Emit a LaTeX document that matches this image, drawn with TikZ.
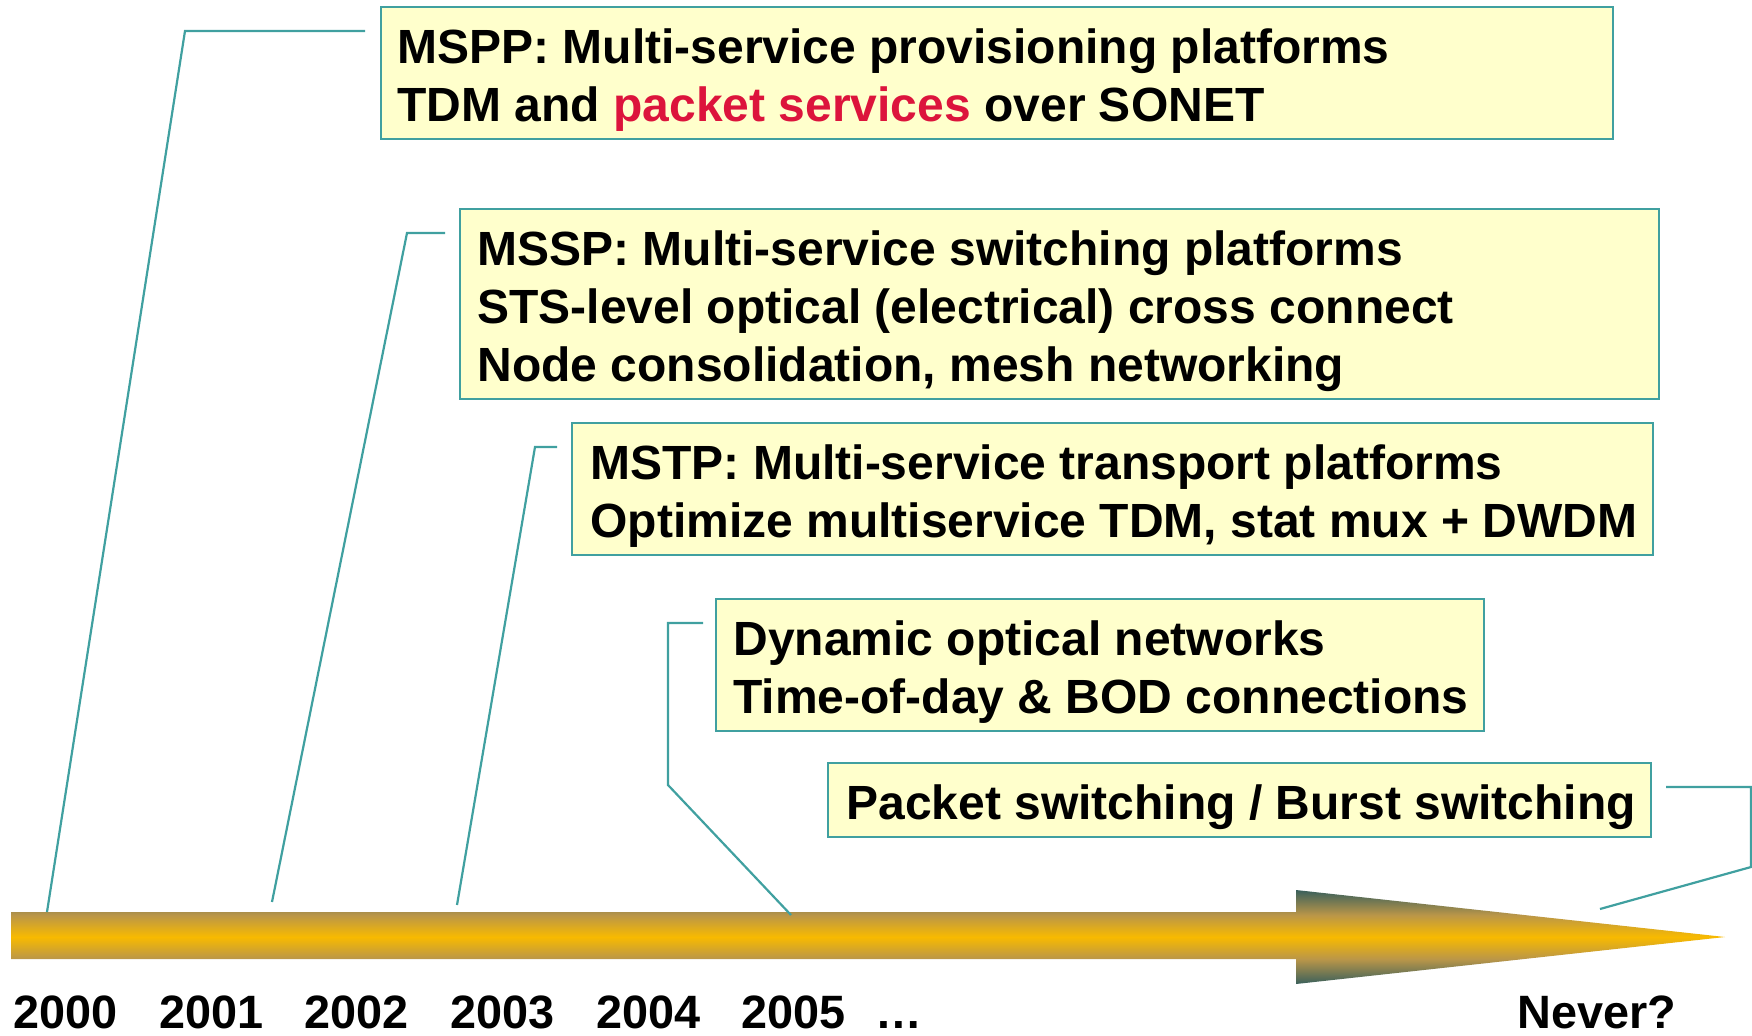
\documentclass[tikz,border=0pt]{standalone}
\usepackage{fontspec}
\setmainfont{Liberation Sans}
\usetikzlibrary{calc}

\definecolor{boxfill}{RGB}{255,255,204}
\definecolor{linkteal}{RGB}{64,160,160}
\definecolor{pktred}{RGB}{220,20,60}
\definecolor{tlgold}{RGB}{248,186,0}
\definecolor{tlrim}{RGB}{186,150,72}
\definecolor{tlslate}{RGB}{58,96,92}

% vertical gradient of the timeline arrow: slate at the head's edges,
% brownish at the shaft's edges, gold along the middle
\pgfdeclareverticalshading{timeline}{100bp}{%
  color(0bp)=(tlslate); color(25bp)=(tlslate); color(38.3bp)=(tlrim);
  color(50bp)=(tlgold); color(61.7bp)=(tlrim); color(75bp)=(tlslate);
  color(100bp)=(tlslate)}

\begin{document}
\begin{tikzpicture}[x=0.5pt,y=-0.5pt,
  infobox/.style={draw=linkteal, line width=1pt, fill=boxfill,
                  inner sep=0pt, outer sep=0pt, anchor=north west},
  txt/.style={anchor=base west, inner sep=0pt,
              font=\fontsize{24}{29}\selectfont\bfseries},
  year/.style={txt, font=\fontsize{23.4}{28}\selectfont\bfseries},
  conn/.style={draw=linkteal, line width=1.1pt, line join=miter}]

\useasboundingbox (0,0) rectangle (1752,1035);

% timeline arrow
\path[shading=timeline]
  (11,912) -- (1296,912) -- (1296,890) -- (1725,937) -- (1296,984)
  -- (1296,959) -- (11,959) -- cycle;

% boxes
\node[infobox, minimum width=616pt,   minimum height=66pt] (b1) at (381,7) {};
\node[infobox, minimum width=599.5pt, minimum height=95pt] (b2) at (460,209) {};
\node[infobox, minimum width=540.5pt, minimum height=66pt] (b3) at (572,423) {};
\node[infobox, minimum width=384pt,   minimum height=66pt] (b4) at (716,599) {};
\node[infobox, minimum width=411.5pt, minimum height=37pt] (b5) at (828,763) {};

% box texts
\node[txt] (t1a) at (397,63)  {MSPP: Multi-service provisioning platforms};
\node[txt] (t1b) at (397,121) {TDM and \textcolor{pktred}{packet services} over SONET};
\node[txt] (t2a) at (477,265) {MSSP: Multi-service switching platforms};
\node[txt] (t2b) at (477,323) {STS-level optical (electrical) cross connect};
\node[txt] (t2c) at (477,381) {Node consolidation, mesh networking};
\node[txt] (t3a) at (590,479) {MSTP: Multi-service transport platforms};
\node[txt] (t3b) at (590,537) {Optimize multiservice TDM, stat mux + DWDM};
\node[txt] (t4a) at (733,655) {Dynamic optical networks};
\node[txt] (t4b) at (733,713) {Time-of-day \& BOD connections};
\node[txt] (t5a) at (846,819) {Packet switching / Burst switching};

% year labels
\node[year] (y0) at (13,1028)   {2000};
\node[year] (y1) at (159,1028)  {2001};
\node[year] (y2) at (304,1028)  {2002};
\node[year] (y3) at (450,1028)  {2003};
\node[year] (y4) at (596,1028)  {2004};
\node[year] (y5) at (741,1028)  {2005};
\node[year] (yd) at (875,1028)  {…};
\node[year] (yn) at (1517,1028) {Never?};

% connector points
\coordinate (c1s) at (365,31);   \coordinate (c1k) at (185,31);   \coordinate (c1e) at (47,912);
\coordinate (c2s) at (445,233);  \coordinate (c2k) at (407,233);  \coordinate (c2e) at (272,902);
\coordinate (c3s) at (557,447);  \coordinate (c3k) at (535,447);  \coordinate (c3e) at (457,905);
\coordinate (c4s) at (703,623);  \coordinate (c4k) at (668,623);  \coordinate (c4m) at (668,785);
\coordinate (c4e) at (791,915);
\coordinate (c5s) at (1666,787); \coordinate (c5k) at (1751,787); \coordinate (c5m) at (1751,867);
\coordinate (c5e) at (1600,909);

% connectors
\draw[conn] (c1s) -- (c1k) -- (c1e);
\draw[conn] (c2s) -- (c2k) -- (c2e);
\draw[conn] (c3s) -- (c3k) -- (c3e);
\draw[conn] (c4s) -- (c4k) -- (c4m) -- (c4e);
\draw[conn] (c5s) -- (c5k) -- (c5m) -- (c5e);
\end{tikzpicture}
\end{document}
